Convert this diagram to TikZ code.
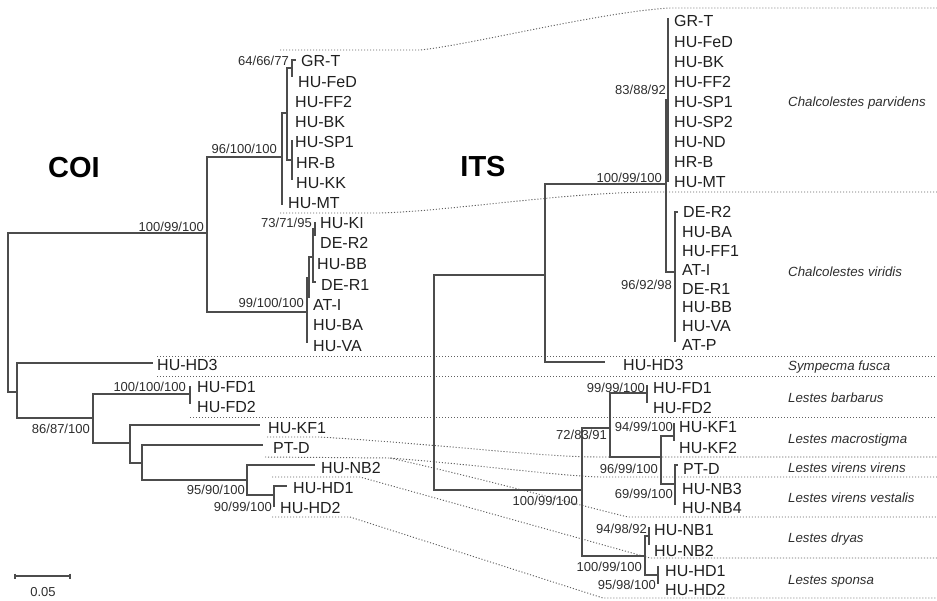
\documentclass[tikz,border=0pt]{standalone}
\usepackage{fontspec}
\setmainfont{Liberation Sans}
\begin{document}
\begin{tikzpicture}[x=1pt,y=-1pt,
  br/.style={draw=black!70, line width=1.2pt},
  conn/.style={draw=black!62, line width=0.95pt, dash pattern=on 1.1pt off 1.9pt},
  tip/.style={anchor=base west, inner sep=0pt, yshift=-5.7pt, font=\fontsize{16}{16}\selectfont, text=black!88},
  bs/.style={anchor=base east, inner sep=0pt, yshift=-4.7pt, font=\fontsize{13}{13}\selectfont, text=black!82},
  sp/.style={anchor=base west, inner sep=0pt, yshift=-4.8pt, font=\fontsize{13.3}{13.3}\selectfont\itshape, text=black!82},
  ttl/.style={inner sep=0pt, font=\fontsize{29}{29}\selectfont\bfseries, text=black}]
\useasboundingbox (0,0) rectangle (937,600);

% ---------------- dotted connectors ----------------
\coordinate (d1a) at (280,50);  \coordinate (d1b) at (420,50);  \coordinate (d1c) at (670,8);  \coordinate (d1d) at (937,8);
\coordinate (d2a) at (280,213); \coordinate (d2b) at (380,213); \coordinate (d2c) at (650,192); \coordinate (d2d) at (937,192);
\coordinate (d3a) at (157,356); \coordinate (d3d) at (937,356);
\coordinate (d4a) at (157,376); \coordinate (d4d) at (937,376);
\coordinate (d5a) at (190,417); \coordinate (d5d) at (937,417);
\coordinate (d6a) at (267,437); \coordinate (d6b) at (320,437); \coordinate (d6c) at (600,457); \coordinate (d6d) at (937,457);
\coordinate (d7a) at (265,457); \coordinate (d7b) at (390,458); \coordinate (d7c) at (600,477); \coordinate (d7d) at (937,477);
\coordinate (d8c) at (628,517); \coordinate (d8d) at (937,517);
\coordinate (d9a) at (272,477); \coordinate (d9b) at (360,477); \coordinate (d9c) at (650,558); \coordinate (d9d) at (937,558);
\coordinate (d10a) at (272,517); \coordinate (d10b) at (350,517); \coordinate (d10c) at (603,598); \coordinate (d10d) at (937,598);

\draw[conn] (d1a) -- (d1b) .. controls (470,45) and (600,12) .. (d1c) -- (d1d);
\draw[conn] (d2a) -- (d2b) .. controls (450,211) and (560,193) .. (d2c) -- (d2d);
\draw[conn] (d3a) -- (d3d);
\draw[conn] (d4a) -- (d4d);
\draw[conn] (d5a) -- (d5d);
\draw[conn] (d6a) -- (d6b) .. controls (450,445) and (540,457) .. (d6c) -- (d6d);
\draw[conn] (d7a) -- (d7b) .. controls (480,465) and (560,476) .. (d7c) -- (d7d);
\draw[conn] (d7b) .. controls (480,478) and (590,508) .. (d8c) -- (d8d);
\draw[conn] (d9a) -- (d9b) -- (d9c) -- (d9d);
\draw[conn] (d10a) -- (d10b) -- (d10c) -- (d10d);

% ---------------- titles ----------------
\node[ttl] (coi) at (74,168) {COI};
\node[ttl] (its) at (483,167) {ITS};

% ---------------- COI tree ----------------
\coordinate (cR) at (8,300);
\coordinate (cA) at (207,233);
\coordinate (cB) at (17,392);
\coordinate (cP) at (282,157);
\coordinate (cP1) at (287,113);
\coordinate (cG) at (292,68);
\coordinate (cS) at (292,160);
\coordinate (cV) at (307,312);
\coordinate (cV1) at (309,278);
\coordinate (cV2) at (313,257);
\coordinate (cV3) at (315,229);
\coordinate (cL) at (93,418);
\coordinate (cFD) at (190,394);
\coordinate (cM) at (130,443);
\coordinate (cN) at (142,463);
\coordinate (cO) at (247,480);
\coordinate (cQ) at (274,495);
% tip ends
\coordinate (ctGRT) at (296,60);
\coordinate (ctFeD) at (292,77);
\coordinate (ctSP1) at (292,140);
\coordinate (ctKK) at (292,180);
\coordinate (ctMT) at (282,205);
\coordinate (ctVA) at (307,343);
\coordinate (ctV1b) at (309,298);
\coordinate (ctDER1) at (316,282);
\coordinate (ctKI) at (315,222);
\coordinate (ctDER2) at (315,236);
\coordinate (ctHD3) at (153,363);
\coordinate (ctFD1) at (190,386);
\coordinate (ctFD2) at (190,404);
\coordinate (ctKF1) at (260,425);
\coordinate (ctPTD) at (263,445);
\coordinate (ctNB2) at (315,465);
\coordinate (ctHD1) at (287,486);
\coordinate (ctHD2) at (274,507);

\draw[br] (cR) |- (cA);  \draw[br] (cR) |- (cB);
\draw[br] (cA) |- (cP);  \draw[br] (cA) |- (cV);
\draw[br] (cP) |- (cP1); \draw[br] (cP) |- (ctMT);
\draw[br] (cP1) |- (cG); \draw[br] (cP1) |- (cS);
\draw[br] (cG) |- (ctGRT); \draw[br] (cG) |- (ctFeD);
\draw[br] (cS) |- (ctSP1); \draw[br] (cS) |- (ctKK);
\draw[br] (cV) |- (cV1); \draw[br] (cV) |- (ctVA);
\draw[br] (cV1) |- (cV2); \draw[br] (cV1) |- (ctV1b);
\draw[br] (cV2) |- (cV3); \draw[br] (cV2) |- (ctDER1);
\draw[br] (cV3) |- (ctKI); \draw[br] (cV3) |- (ctDER2);
\draw[br] (cB) |- (ctHD3); \draw[br] (cB) |- (cL);
\draw[br] (cL) |- (cFD); \draw[br] (cL) |- (cM);
\draw[br] (cFD) |- (ctFD1); \draw[br] (cFD) |- (ctFD2);
\draw[br] (cM) |- (ctKF1); \draw[br] (cM) |- (cN);
\draw[br] (cN) |- (ctPTD); \draw[br] (cN) |- (cO);
\draw[br] (cO) |- (ctNB2); \draw[br] (cO) |- (cQ);
\draw[br] (cQ) |- (ctHD1); \draw[br] (cQ) |- (ctHD2);

% COI tip labels
\node[tip] (cGRT) at (301,61) {GR-T};
\node[tip] (cFeD) at (298,82) {HU-FeD};
\node[tip] (cFF2) at (295,102) {HU-FF2};
\node[tip] (cBK) at (295,122) {HU-BK};
\node[tip] (cSP1) at (295,142) {HU-SP1};
\node[tip] (cHRB) at (296,163) {HR-B};
\node[tip] (cKK) at (296,183) {HU-KK};
\node[tip] (cMT) at (288,203) {HU-MT};
\node[tip] (cKI) at (320,223) {HU-KI};
\node[tip] (cDER2) at (320,243) {DE-R2};
\node[tip] (cBB) at (317,264) {HU-BB};
\node[tip] (cDER1) at (321,285) {DE-R1};
\node[tip] (cATI) at (313,305) {AT-I};
\node[tip] (cBA) at (313,325) {HU-BA};
\node[tip] (cVA) at (313,346) {HU-VA};
\node[tip] (cHD3) at (157,365) {HU-HD3};
\node[tip] (cFD1) at (197,387) {HU-FD1};
\node[tip] (cFD2) at (197,407) {HU-FD2};
\node[tip] (cKF1) at (268,428) {HU-KF1};
\node[tip] (cPTD) at (273,448) {PT-D};
\node[tip] (cNB2) at (321,468) {HU-NB2};
\node[tip] (cHD1) at (293,488) {HU-HD1};
\node[tip] (cHD2) at (280,508) {HU-HD2};

% COI support values
\node[bs] (cb1) at (289,61) {64/66/77};
\node[bs] (cb2) at (277,149) {96/100/100};
\node[bs] (cb3) at (204,227) {100/99/100};
\node[bs] (cb4) at (312,223) {73/71/95};
\node[bs] (cb5) at (304,303) {99/100/100};
\node[bs] (cb6) at (186,387) {100/100/100};
\node[bs] (cb7) at (90,429) {86/87/100};
\node[bs] (cb8) at (245,490) {95/90/100};
\node[bs] (cb9) at (272,507) {90/99/100};

% scale bar
\coordinate (sb1) at (15,576); \coordinate (sb2) at (70,576);
\draw[draw=black!70, line width=1.1pt] (sb1) -- (sb2);
\draw[draw=black!70, line width=1.1pt] ([yshift=2.5pt]sb1) -- ([yshift=-2.5pt]sb1);
\draw[draw=black!70, line width=1.1pt] ([yshift=2.5pt]sb2) -- ([yshift=-2.5pt]sb2);
\node[inner sep=0pt, font=\fontsize{13}{13}\selectfont, text=black!82] (sbl) at (43,592) {0.05};

% ---------------- ITS tree ----------------
\coordinate (iR) at (434,380);
\coordinate (iC) at (545,275);
\coordinate (iCh) at (666,184);
\coordinate (iPa) at (668,100);
\coordinate (iVi) at (675,272);
\coordinate (iLe) at (582,490);
\coordinate (iLe1) at (610,428);
\coordinate (iFD) at (647,393);
\coordinate (iKV) at (661,457);
\coordinate (iKF) at (674,436);
\coordinate (iVV) at (675,484);
\coordinate (iLe2) at (645,556);
\coordinate (iDr) at (649,536);
\coordinate (iSp) at (658,575);
\coordinate (itPa1) at (668,18);  \coordinate (itPa2) at (668,182);
\coordinate (itVi1) at (678,212); \coordinate (itVi2) at (675,342);
\coordinate (itHD3) at (605,362);
\coordinate (itFD1) at (647,385); \coordinate (itFD2) at (647,403);
\coordinate (itKF1) at (674,423); \coordinate (itKF2) at (674,441);
\coordinate (itVV1) at (678,465); \coordinate (itVV2) at (675,505);
\coordinate (itDr1) at (649,527); \coordinate (itDr2) at (649,545);
\coordinate (itSp1) at (658,566); \coordinate (itSp2) at (658,584);

\draw[br] (iR) |- (iC);  \draw[br] (iR) |- (iLe);
\draw[br] (iC) |- (iCh); \draw[br] (iC) |- (itHD3);
\draw[br] (iCh) |- (iPa); \draw[br] (iCh) |- (iVi);
\draw[br] (iPa) |- (itPa1); \draw[br] (iPa) |- (itPa2);
\draw[br] (iVi) |- (itVi1); \draw[br] (iVi) |- (itVi2);
\draw[br] (iLe) |- (iLe1); \draw[br] (iLe) |- (iLe2);
\draw[br] (iLe1) |- (iFD); \draw[br] (iLe1) |- (iKV);
\draw[br] (iFD) |- (itFD1); \draw[br] (iFD) |- (itFD2);
\draw[br] (iKV) |- (iKF); \draw[br] (iKV) |- (iVV);
\draw[br] (iKF) |- (itKF1); \draw[br] (iKF) |- (itKF2);
\draw[br] (iVV) |- (itVV1); \draw[br] (iVV) |- (itVV2);
\draw[br] (iLe2) |- (iDr); \draw[br] (iLe2) |- (iSp);
\draw[br] (iDr) |- (itDr1); \draw[br] (iDr) |- (itDr2);
\draw[br] (iSp) |- (itSp1); \draw[br] (iSp) |- (itSp2);

% ITS tip labels
\node[tip] (iGRT) at (674,21) {GR-T};
\node[tip] (iFeD) at (674,42) {HU-FeD};
\node[tip] (iBK) at (674,62) {HU-BK};
\node[tip] (iFF2) at (674,82) {HU-FF2};
\node[tip] (iSP1) at (674,102) {HU-SP1};
\node[tip] (iSP2) at (674,122) {HU-SP2};
\node[tip] (iND) at (674,142) {HU-ND};
\node[tip] (iHRB) at (674,162) {HR-B};
\node[tip] (iMT) at (674,182) {HU-MT};
\node[tip] (iDER2) at (683,212) {DE-R2};
\node[tip] (iBA) at (682,232) {HU-BA};
\node[tip] (iFF1) at (682,251) {HU-FF1};
\node[tip] (iATI) at (682,270) {AT-I};
\node[tip] (iDER1) at (682,289) {DE-R1};
\node[tip] (iBB) at (682,307) {HU-BB};
\node[tip] (iVA) at (682,326) {HU-VA};
\node[tip] (iATP) at (682,345) {AT-P};
\node[tip] (iHD3) at (623,365) {HU-HD3};
\node[tip] (iFD1) at (653,388) {HU-FD1};
\node[tip] (iFD2) at (653,408) {HU-FD2};
\node[tip] (iKF1) at (679,427) {HU-KF1};
\node[tip] (iKF2) at (679,448) {HU-KF2};
\node[tip] (iPTD) at (683,469) {PT-D};
\node[tip] (iNB3) at (682,489) {HU-NB3};
\node[tip] (iNB4) at (682,508) {HU-NB4};
\node[tip] (iNB1) at (654,530) {HU-NB1};
\node[tip] (iNB2) at (654,551) {HU-NB2};
\node[tip] (iHD1) at (665,571) {HU-HD1};
\node[tip] (iHD2) at (665,590) {HU-HD2};

% ITS support values
\node[bs] (ib1) at (666,90) {83/88/92};
\node[bs] (ib2) at (662,178) {100/99/100};
\node[bs] (ib3) at (672,285) {96/92/98};
\node[bs] (ib4) at (645,388) {99/99/100};
\node[bs] (ib5) at (607,435) {72/83/91};
\node[bs] (ib6) at (673,427) {94/99/100};
\node[bs] (ib7) at (658,469) {96/99/100};
\node[bs] (ib8) at (673,494) {69/99/100};
\node[bs] (ib9) at (578,501) {100/99/100};
\node[bs] (ib10) at (647,529) {94/98/92};
\node[bs] (ib11) at (642,567) {100/99/100};
\node[bs] (ib12) at (656,585) {95/98/100};

% species names
\node[sp] (s1) at (788,102) {Chalcolestes parvidens};
\node[sp] (s2) at (788,272) {Chalcolestes viridis};
\node[sp] (s3) at (788,366) {Sympecma fusca};
\node[sp] (s4) at (788,398) {Lestes barbarus};
\node[sp] (s5) at (788,439) {Lestes macrostigma};
\node[sp] (s6) at (788,468) {Lestes virens virens};
\node[sp] (s7) at (788,498) {Lestes virens vestalis};
\node[sp] (s8) at (788,538) {Lestes dryas};
\node[sp] (s9) at (788,580) {Lestes sponsa};
\end{tikzpicture}
\end{document}
